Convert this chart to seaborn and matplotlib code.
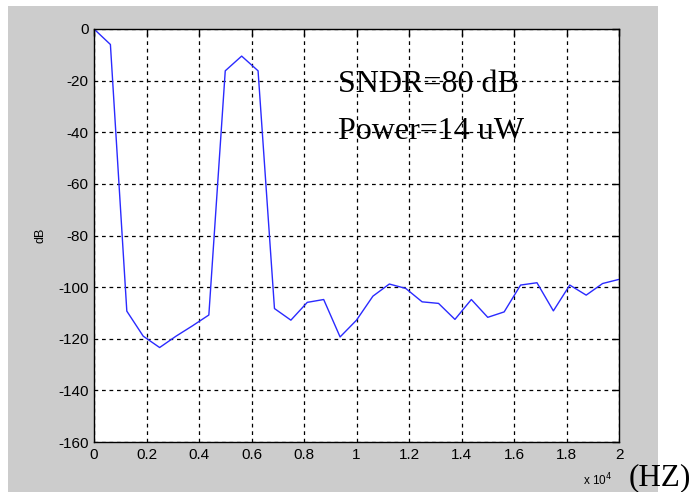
import matplotlib
matplotlib.use("Agg")
import matplotlib.pyplot as plt
import seaborn as sns
import pandas as pd
from matplotlib.patches import Rectangle

# Output spectrum samples (frequency in Hz, magnitude in dB)
freq_hz = [0, 625, 1250, 1875, 2500, 3125, 3750, 4375, 5000, 5625, 6250,
           6875, 7500, 8125, 8750, 9375, 10000, 10625, 11250, 11875, 12500,
           13125, 13750, 14375, 15000, 15625, 16250, 16875, 17500, 18125,
           18750, 19375, 20000]
mag_db = [0, -6, -109.3, -119, -123.4, -119, -115, -110.8, -16.2, -10.5,
          -16.2, -108.3, -112.8, -105.9, -104.8, -119.3, -112.8, -103.5,
          -98.8, -100.5, -105.7, -106.3, -112.5, -104.8, -111.7, -109.6,
          -99.2, -98.3, -109.2, -99.2, -103.1, -98.6, -97.0]

x_ticks = [0, 0.2, 0.4, 0.6, 0.8, 1, 1.2, 1.4, 1.6, 1.8, 2]
x_tick_labels = ["0", "0.2", "0.4", "0.6", "0.8", "1", "1.2", "1.4", "1.6", "1.8", "2"]
y_ticks = [0, -20, -40, -60, -80, -100, -120, -140, -160]

df = pd.DataFrame({"f": [f / 1e4 for f in freq_hz], "dB": mag_db})

sns.set_style("white")
plt.rcParams["font.family"] = ["Liberation Sans", "DejaVu Sans"]
plt.rcParams["text.color"] = "black"

fig = plt.figure(figsize=(6.92, 4.92), dpi=100, facecolor="white")
W, H = 692, 492
# grey figure panel behind the axes
panel = Rectangle((8 / W, 0), 650 / W, 486 / H, transform=fig.transFigure,
                  facecolor="#cccccc", edgecolor="none", zorder=-10)
fig.add_artist(panel)

ax = fig.add_axes([94 / W, 1 - 442 / H, (619 - 94) / W, (442 - 29) / H])
ax.set_zorder(1)
ax.set_facecolor("white")

sns.lineplot(data=df, x="f", y="dB", ax=ax, color="#2a2aff", linewidth=1.0)

ax.set_xlim(0, 2)
ax.set_ylim(-160, 0)
ax.set_xticks(x_ticks)
ax.set_xticklabels(x_tick_labels)
ax.set_yticks(y_ticks)
ax.set_yticklabels([str(v) for v in y_ticks])
ax.set_xlabel("")
ax.set_ylabel("dB", fontsize=9, labelpad=8, color="black")

ax.grid(True, color="black", linestyle=(0, (3, 3)), linewidth=0.9)
ax.tick_params(axis="both", which="both", direction="in", length=5, width=1,
               top=True, right=True, labelsize=11, colors="black", pad=4)
for s in ax.spines.values():
    s.set_visible(True)
    s.set_color("black")
    s.set_linewidth(1.0)

serif = ["Liberation Serif", "DejaVu Serif"]
ax.text(0.93, -24.3, "SNDR=80 dB", fontsize=23, family=serif, color="black",
        va="baseline", ha="left")
ax.text(0.93, -42.7, "Power=14 uW", fontsize=23, family=serif, color="black",
        va="baseline", ha="left")

fig.text(583 / W, 1 - 485 / H, r"x 10$^{4}$", fontsize=8.5, color="black",
         ha="left", va="baseline")
fig.text(629 / W, 1 - 485 / H, "(HZ)", fontsize=22.5, family=serif, color="black",
         ha="left", va="baseline")

fig.savefig("out.png", dpi=100, facecolor="white")
